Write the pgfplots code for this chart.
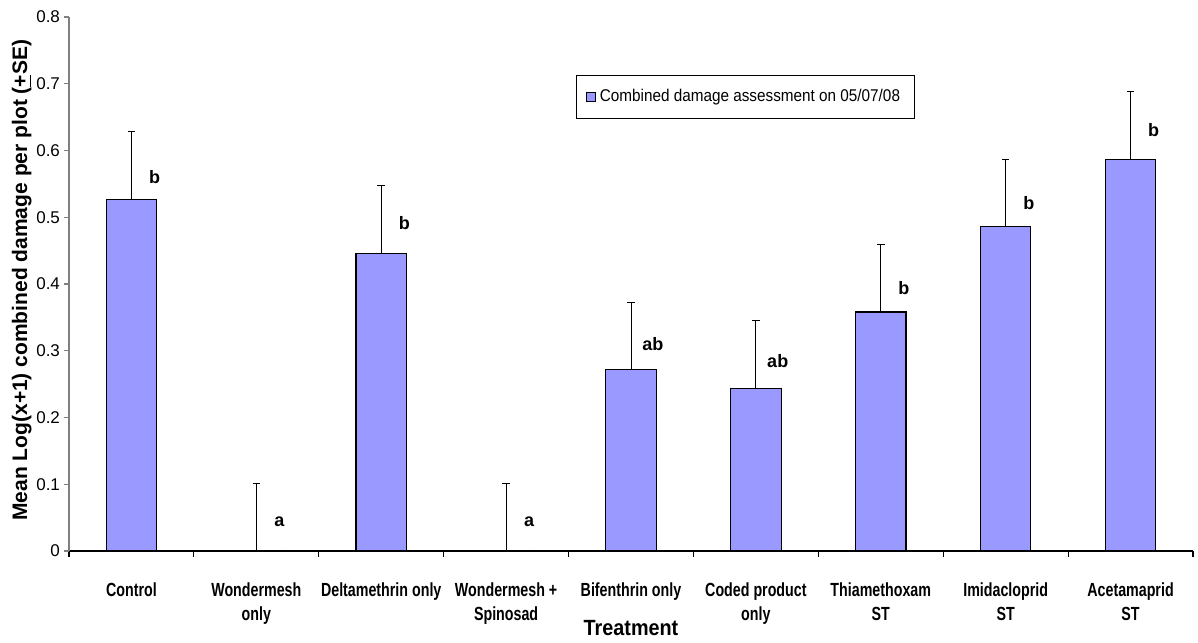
\documentclass[border=0pt]{standalone}
\usepackage{pgfplots}
\pgfplotsset{compat=1.18}
\usepackage{fontspec}
\setmainfont{Liberation Sans}
\newfontfamily\narrowfont{Liberation Sans}[FakeStretch=0.75]
\newfontfamily\legfont{Liberation Sans}[FakeStretch=0.9]
\newfontfamily\xlabfont{Liberation Sans}[FakeStretch=0.9]
\definecolor{barcolor}{HTML}{9999FF}
\definecolor{axgray}{HTML}{808080}
\begin{document}
\begin{tikzpicture}
\begin{axis}[
  width=562pt, height=267pt, scale only axis,
  xmin=-0.5, xmax=8.5, ymin=0, ymax=0.8,
  axis x line*=bottom, axis y line*=left,
  axis line style={-},
  x axis line style={black, line width=0.6pt},
  y axis line style={axgray, line width=0.6pt},
  ytick={0,0.1,0.2,0.3,0.4,0.5,0.6,0.7,0.8},
  yticklabels={0,0.1,0.2,0.3,0.4,0.5,0.6,0.7,0.8},
  yticklabel style={font=\fontsize{8.5}{10}\selectfont, xshift=1.5pt},
  ytick style={axgray, line width=0.6pt},
  tick align=outside, major tick length=2.5pt,
  xtick={0,...,8},
  xticklabels={Control, Wondermesh\\only, Deltamethrin only, Wondermesh +\\Spinosad, Bifenthrin only, Coded product\\only, Thiamethoxam\\ST, Imidacloprid\\ST, Acetamaprid\\ST},
  xticklabel style={align=center, font=\narrowfont\bfseries\fontsize{9.5}{12}\selectfont, yshift=-10pt},
  major x tick style={draw=none},
  minor xtick={-0.5,0.5,...,8.5},
  minor x tick style={black, line width=0.6pt},
  minor tick length=3pt,
  xlabel={Treatment},
  xlabel style={font=\xlabfont\bfseries\fontsize{11}{13}\selectfont, at={(axis description cs:0.5,0)}, anchor=center, yshift=-38.5pt},
  ylabel={Mean Log(x+1) combined damage per plot (\underline{+}SE)},
  ylabel style={font=\bfseries\fontsize{10.5}{12}\selectfont, at={(axis description cs:-0.042,0.507)}, anchor=center},
  legend style={at={(0.451,0.892)}, anchor=north west, draw=black, line width=0.5pt,
    font=\legfont\fontsize{8.5}{10}\selectfont, inner xsep=5pt, inner ysep=5pt},
  legend image code/.code={\draw[fill=barcolor, draw=black, line width=0.5pt] (0pt,-2.1pt) rectangle (4.2pt,2.1pt);},
  clip=false,
]
\addplot[ybar, bar width=0.404, fill=barcolor, draw=black, line width=0.6pt,
  error bars/.cd, y dir=plus, y explicit,
  error bar style={black, line width=0.5pt},
  error mark options={rotate=90, mark size=1.9pt, black, line width=0.5pt}]
coordinates {
  (0,0.527) +- (0,0.102)
  (1,0.000) +- (0,0.101)
  (2,0.446) +- (0,0.102)
  (3,0.000) +- (0,0.101)
  (4,0.272) +- (0,0.101)
  (5,0.243) +- (0,0.102)
  (6,0.358) +- (0,0.101)
  (7,0.486) +- (0,0.101)
  (8,0.586) +- (0,0.102)
};
\addlegendentry{Combined damage assessment on 05/07/08}
\addplot[draw=none, mark=none, forget plot, nodes near coords, point meta=explicit symbolic,
  every node near coord/.append style={anchor=center, font=\bfseries\fontsize{9}{10}\selectfont}]
coordinates {
  (0.185,0.560) [b]
  (1.185,0.044) [a]
  (2.185,0.491) [b]
  (3.185,0.044) [a]
  (4.175,0.310) [ab]
  (5.175,0.284) [ab]
  (6.185,0.394) [b]
  (7.185,0.522) [b]
  (8.185,0.630) [b]
};
\end{axis}
\pgfresetboundingbox
\path[use as bounding box] (-34.5pt,-45.5pt) rectangle (564.5pt,275.5pt);
\end{tikzpicture}
\end{document}
